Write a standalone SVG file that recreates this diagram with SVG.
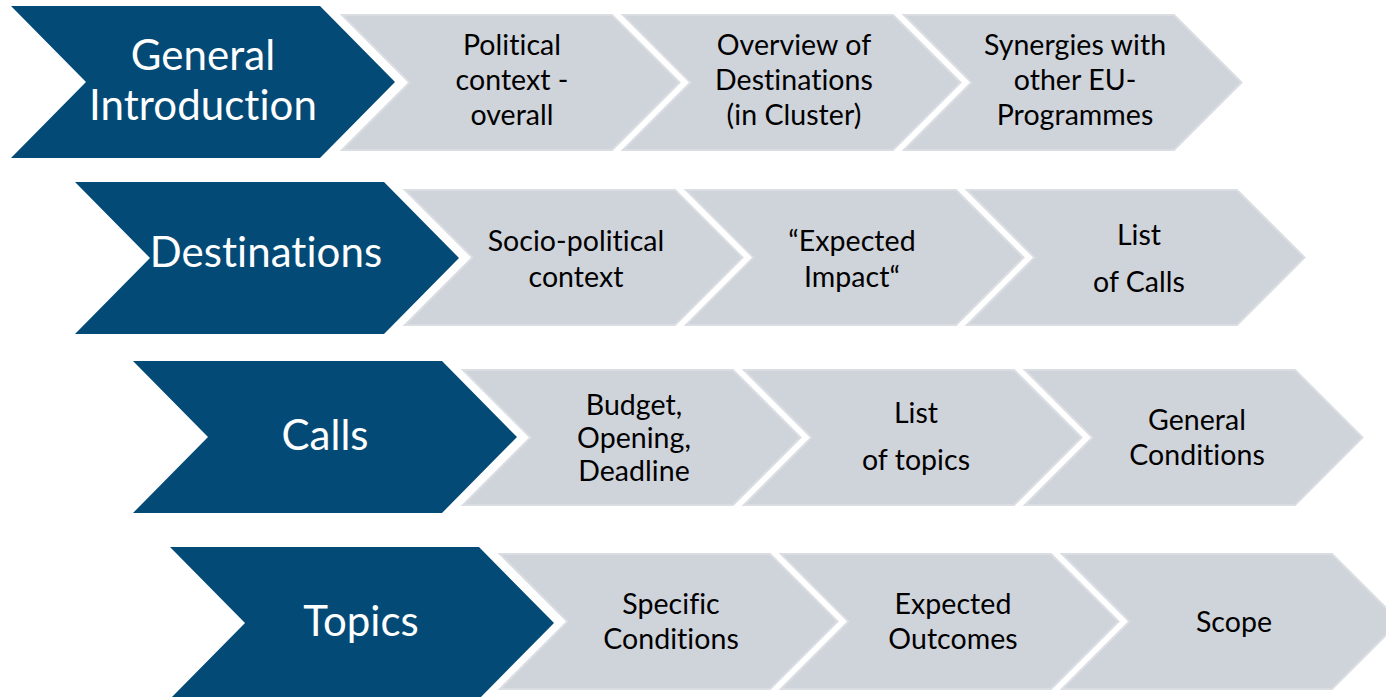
<svg xmlns="http://www.w3.org/2000/svg" xmlns:xlink="http://www.w3.org/1999/xlink" width="1386" height="697" viewBox="0 0 1386 697">
<defs>
<path id="blue" d="M0,0 H309 L384,76 L309,152 H0 L75,76 Z"/>
<path id="gray" d="M0,0 H270 L337.5,67.5 L270,135 H0 L67.5,67.5 Z"/>
<style>
.b{fill:#034b76}
.g{fill:#cfd3da;stroke:#dadde2;stroke-width:2}
.bt{font-family:Lato,"Liberation Sans",sans-serif;font-size:42px;fill:#ffffff;text-anchor:middle;font-variant-ligatures:none;font-feature-settings:"liga" 0,"clig" 0,"dlig" 0;letter-spacing:0.05px}
.gt{font-family:Lato,"Liberation Sans",sans-serif;font-size:28.5px;fill:#000000;text-anchor:middle;font-variant-ligatures:none;font-feature-settings:"liga" 0,"clig" 0,"dlig" 0;letter-spacing:0.05px}
</style>
</defs>
<rect width="1386" height="697" fill="#ffffff"/>

<g id="general-introduction">
<use xlink:href="#blue" href="#blue" class="b" x="11" y="6"/>
<text class="bt" x="203" y="70">General</text>
<text class="bt" x="203" y="120">Introduction</text>
</g>
<g id="political-context">
<use href="#gray" xlink:href="#gray" class="g" x="342" y="15"/>
<text class="gt" x="512" y="55">Political</text>
<text class="gt" x="512" y="90">context -</text>
<text class="gt" x="512" y="125">overall</text>
</g>
<g id="overview-destinations">
<use href="#gray" xlink:href="#gray" class="g" x="623" y="15"/>
<text class="gt" x="794" y="55">Overview of</text>
<text class="gt" x="794" y="90">Destinations</text>
<text class="gt" x="794" y="125">(in Cluster)</text>
</g>
<g id="synergies">
<use href="#gray" xlink:href="#gray" class="g" x="904" y="15"/>
<text class="gt" x="1075" y="55">Synergies with</text>
<text class="gt" x="1075" y="90">other EU-</text>
<text class="gt" x="1075" y="125">Programmes</text>
</g>

<g id="destinations">
<use href="#blue" xlink:href="#blue" class="b" x="75" y="182"/>
<text class="bt" x="266" y="267">Destinations</text>
</g>
<g id="socio-political">
<use href="#gray" xlink:href="#gray" class="g" x="405" y="190"/>
<text class="gt" x="576" y="251">Socio-political</text>
<text class="gt" x="576" y="287">context</text>
</g>
<g id="expected-impact">
<use href="#gray" xlink:href="#gray" class="g" x="686" y="190"/>
<text class="gt" x="852" y="251">“Expected</text>
<text class="gt" x="852" y="287">Impact“</text>
</g>
<g id="list-of-calls">
<use href="#gray" xlink:href="#gray" class="g" x="967" y="190"/>
<text class="gt" x="1139" y="245">List</text>
<text class="gt" x="1139" y="292">of Calls</text>
</g>

<g id="calls">
<use href="#blue" xlink:href="#blue" class="b" x="133" y="361"/>
<text class="bt" x="325" y="450">Calls</text>
</g>
<g id="budget">
<use href="#gray" xlink:href="#gray" class="g" x="463" y="370"/>
<text class="gt" x="634" y="415">Budget,</text>
<text class="gt" x="634" y="448">Opening,</text>
<text class="gt" x="634" y="481">Deadline</text>
</g>
<g id="list-of-topics">
<use href="#gray" xlink:href="#gray" class="g" x="744" y="370"/>
<text class="gt" x="916" y="423">List</text>
<text class="gt" x="916" y="470">of topics</text>
</g>
<g id="general-conditions">
<use href="#gray" xlink:href="#gray" class="g" x="1025" y="370"/>
<text class="gt" x="1197" y="430">General</text>
<text class="gt" x="1197" y="465">Conditions</text>
</g>

<g id="topics">
<use href="#blue" xlink:href="#blue" class="b" x="170" y="547"/>
<text class="bt" x="361" y="636">Topics</text>
</g>
<g id="specific-conditions">
<use href="#gray" xlink:href="#gray" class="g" x="500" y="554"/>
<text class="gt" x="671" y="614">Specific</text>
<text class="gt" x="671" y="649">Conditions</text>
</g>
<g id="expected-outcomes">
<use href="#gray" xlink:href="#gray" class="g" x="781" y="554"/>
<text class="gt" x="953" y="614">Expected</text>
<text class="gt" x="953" y="649">Outcomes</text>
</g>
<g id="scope">
<use href="#gray" xlink:href="#gray" class="g" x="1062" y="554"/>
<text class="gt" x="1234" y="632">Scope</text>
</g>
</svg>
